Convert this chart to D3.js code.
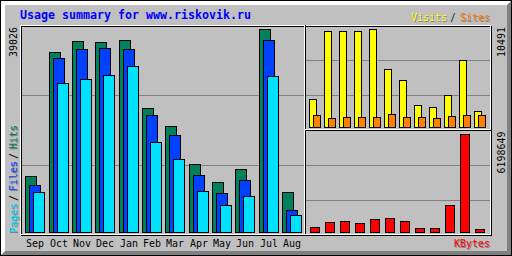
<!DOCTYPE html>
<html>
<head>
<meta charset="utf-8">
<script src="https://cdn.jsdelivr.net/npm/d3@7"></script>
<style>
  html, body { margin: 0; padding: 0; background: #c0c0c0; }
  svg { display: block; }
  text { font-family: "DejaVu Sans Mono", "Liberation Mono", monospace; }
</style>
</head>
<body>
<svg id="chart"></svg>
<script>
    // Monthly usage data
    const months = ["Sep", "Oct", "Nov", "Dec", "Jan", "Feb", "Mar", "Apr", "May", "Jun", "Jul", "Aug"];
    const hits   = [10766, 34605, 36720, 36528, 36912, 23839, 20379, 13073, 9613, 12112, 39026, 7690];
    const files  = [9036, 33452, 35182, 35374, 35182, 22493, 18648, 10958, 7498, 9997, 36912, 4230];
    const pages  = [7690, 28645, 29414, 30183, 31914, 17303, 14034, 7882, 5191, 6921, 29991, 3268];
    const visits = [2997, 10277, 10277, 10277, 10491, 6209, 5031, 2355, 2141, 3426, 7172, 1713];
    const sites  = [1285, 963, 1070, 1070, 1070, 1392, 1070, 1070, 963, 1178, 1285, 1285];
    const kbytes = [316258, 632515, 695767, 569264, 822270, 885521, 695767, 253006, 253006, 1707791, 6198649, 189755];

    const title = "Usage summary for www.riskovik.ru";

    // Size and colours
    const width = 512;
    const height = 256;
    const grey = "#c0c0c0", dkgrey = "#808080", black = "#000", white = "#fff";
    const cHits = "#00805c", cFiles = "#0040ff", cPages = "#00e0ff";
    const cVisits = "#ffff00", cSites = "#ff8000", cKbytes = "#ff0000", cTitle = "#0000ff";

    const svg = d3.select("#chart")
        .attr("width", width)
        .attr("height", height)
        .attr("shape-rendering", "crispEdges");

    svg.append("rect").attr("width", width).attr("height", height).attr("fill", grey);

    // 1px line helpers (pixel coordinates, inclusive)
    function hline(x1, x2, y, c) {
        svg.append("rect").attr("x", x1).attr("y", y).attr("width", x2 - x1 + 1).attr("height", 1).attr("fill", c);
    }
    function vline(x, y1, y2, c) {
        svg.append("rect").attr("x", x).attr("y", y1).attr("width", 1).attr("height", y2 - y1 + 1).attr("fill", c);
    }
    function box(x1, y1, x2, y2, c) {
        hline(x1, x2, y1, c); hline(x1, x2, y2, c);
        vline(x1, y1, y2, c); vline(x2, y1, y2, c);
    }

    // outer border + bevel
    box(0, 0, width - 1, height - 1, black);
    for (let i = 1; i < 5; i++) {
        hline(i, width - i - 2, i, white);
        vline(i, i, height - i - 2, white);
        hline(i + 1, width - i - 1, height - i - 1, dkgrey);
        vline(width - i - 1, i + 1, height - i - 1, dkgrey);
    }

    // background grid lines (thirds of each section)
    [95, 165].forEach(y => hline(22, 303, y, dkgrey));
    [60, 95, 165, 200].forEach(y => hline(306, 489, y, dkgrey));

    // chart box and section lines
    box(21, 26, 491, 235, black);
    box(20, 25, 490, 234, white);
    vline(305, 25, 233, black);
    vline(304, 25, 233, white);
    hline(305, 490, 130, black);
    hline(305, 490, 129, white);

    // Scales
    const x = d3.scaleBand().domain(months).range([25.4, 305.4]);
    const xr = d3.scaleBand().domain(months).range([309, 489]);
    const yMain = d3.scaleLinear().domain([0, d3.max(hits)]).range([232, 29]);
    const yTop = d3.scaleLinear().domain([0, d3.max(visits)]).range([127, 29]);
    const yBot = d3.scaleLinear().domain([0, d3.max(kbytes)]).range([232, 134]);

    // Bars: w = pixel width including the black outline
    function bars(values, xpos, w, y, base, fill) {
        svg.append("g")
            .attr("fill", fill)
            .attr("stroke", black)
          .selectAll("rect")
          .data(values)
          .join("rect")
            .attr("x", (d, i) => xpos(i) + 0.5)
            .attr("y", d => Math.round(y(d)) + 0.5)
            .attr("width", w - 1)
            .attr("height", d => base - Math.round(y(d)));
    }

    const mx = i => Math.round(x(months[i]));
    bars(hits,  i => mx(i),     12, yMain, 232, cHits);
    bars(files, i => mx(i) + 4, 12, yMain, 232, cFiles);
    bars(pages, i => mx(i) + 8, 12, yMain, 232, cPages);

    bars(visits, i => xr(months[i]),     8, yTop, 127, cVisits);
    bars(sites,  i => xr(months[i]) + 4, 8, yTop, 127, cSites);
    bars(kbytes, i => xr(months[i]) + 1, 10, yBot, 232, cKbytes);

    // Text helpers: gd-style fixed cell widths
    function label(str, tx, ty, color, opts = {}) {
        const cw = opts.cw || 6;
        const g = svg.append("g")
            .attr("transform", `translate(${tx},${ty})` + (opts.up ? " rotate(-90)" : ""));
        if (opts.shadow) {
            g.append("text")
                .attr("x", opts.up ? -1 : 1).attr("y", 1)
                .attr("font-size", opts.size || 11)
                .attr("font-weight", opts.bold ? "bold" : null)
                .attr("textLength", str.length * cw)
                .attr("lengthAdjust", "spacingAndGlyphs")
                .attr("fill", dkgrey)
                .text(str);
        }
        g.append("text")
            .attr("font-size", opts.size || 11)
            .attr("font-weight", opts.bold ? "bold" : null)
            .attr("textLength", str.length * cw)
            .attr("lengthAdjust", "spacingAndGlyphs")
            .attr("fill", color)
            .text(str);
    }

    // title
    label(title, 20, 19, cTitle, { size: 12, bold: true, cw: 7 });

    // month labels
    months.forEach((m, i) => label(m, mx(i) + 1, 247, black));

    // max values
    label(String(d3.max(hits)), 17, 57, black, { up: true });
    label(String(d3.max(visits)), 504.5, 57, black, { up: true });
    label(String(d3.max(kbytes)), 504.5, 173.5, black, { up: true });

    // legends
    label("Visits", 411, 21, cVisits, { shadow: true });
    label("/", 450.5, 21, black, { cw: 5 });
    label("Sites", 460, 21, cSites, { shadow: true });
    label("KBytes", 454, 247, cKbytes, { shadow: true });

    label("Pages", 17, 233, cPages, { up: true, shadow: true });
    label("/", 17, 201, black, { up: true });
    label("Files", 17, 191, cFiles, { up: true, shadow: true });
    label("/", 17, 159, black, { up: true });
    label("Hits", 17, 149, cHits, { up: true, shadow: true });
</script>
</body>
</html>
